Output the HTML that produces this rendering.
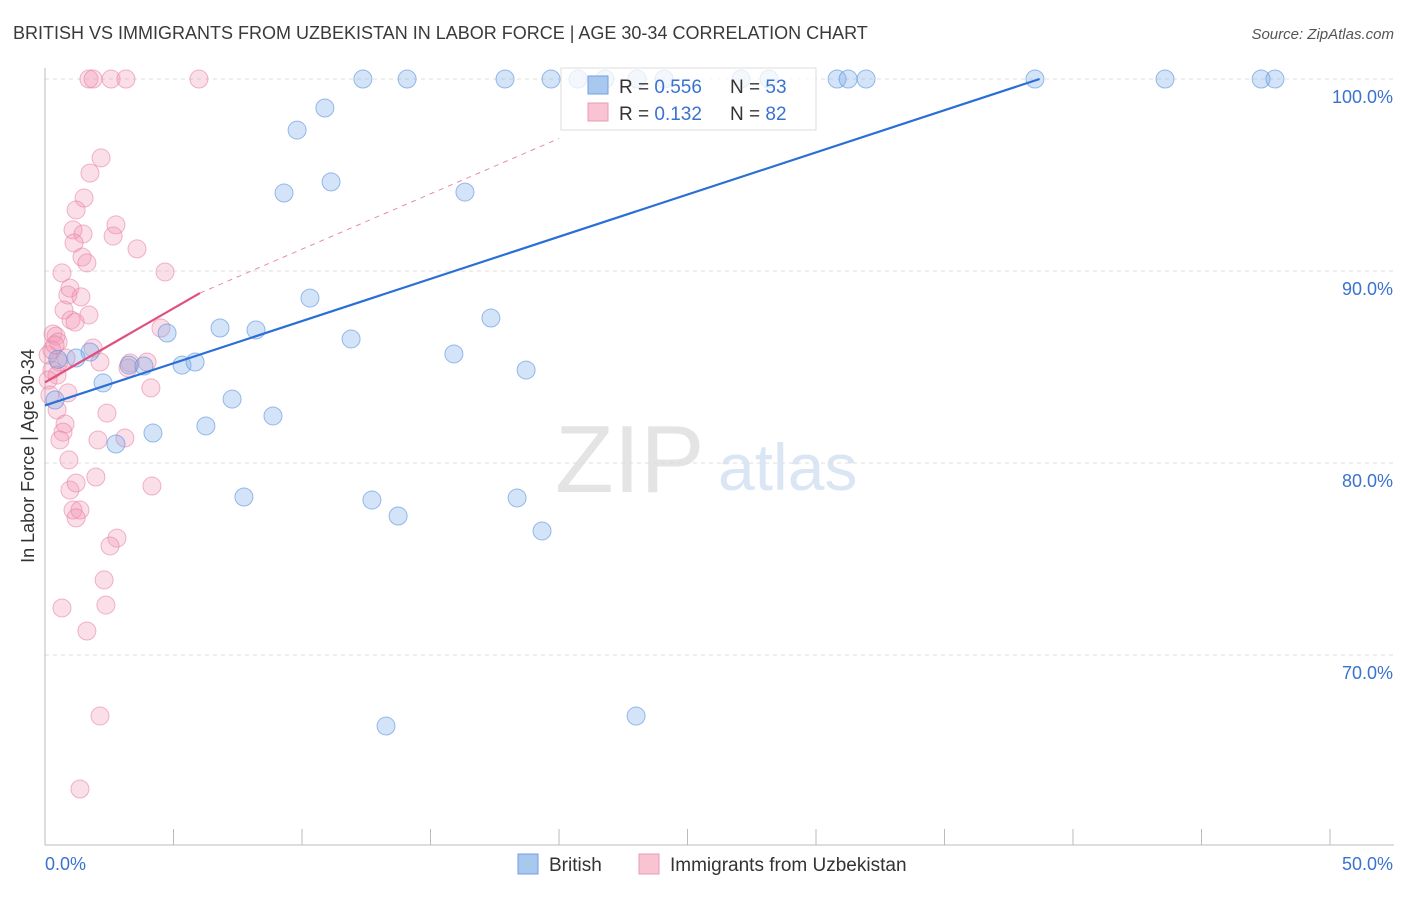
<!DOCTYPE html>
<html><head><meta charset="utf-8"><style>
body{margin:0;background:#fff;font-family:"Liberation Sans",sans-serif;}
svg text{font-family:"Liberation Sans",sans-serif;}
</style></head><body>
<svg id="chart" width="1406" height="892" xmlns="http://www.w3.org/2000/svg">
<text x="13" y="39" font-size="18" fill="#3a3a3a">BRITISH VS IMMIGRANTS FROM UZBEKISTAN IN LABOR FORCE | AGE 30-34 CORRELATION CHART</text>
<text x="1394" y="39" font-size="15" fill="#555" text-anchor="end" font-style="italic">Source: ZipAtlas.com</text>
<text x="555" y="492" font-size="96" fill="#e4e4e4" font-family="Liberation Serif">ZIP</text>
<text x="718" y="490" font-size="66" fill="#dbe6f5">atlas</text>
<text transform="translate(34,456) rotate(-90)" font-size="18" fill="#333" text-anchor="middle">In Labor Force | Age 30-34</text>
<g id="grid"></g><g id="axes"></g><g id="pts"></g><g id="lines"></g>
<g>
<rect x="561" y="68" width="255" height="62" fill="rgba(255,255,255,0.75)" stroke="#ddd"/>
<rect x="588" y="76" width="20" height="18" fill="#a9c8f0" stroke="#6fa0e0"/>
<rect x="588" y="103" width="20" height="18" fill="#f8c4d4" stroke="#ec98b4"/>
<text x="619" y="93" font-size="19" fill="#333">R = <tspan fill="#3a72d0">0.556</tspan></text>
<text x="730" y="93" font-size="19" fill="#333">N = <tspan fill="#3a72d0">53</tspan></text>
<text x="619" y="120" font-size="19" fill="#333">R =  <tspan fill="#3a72d0">0.132</tspan></text>
<text x="730" y="120" font-size="19" fill="#333">N = <tspan fill="#3a72d0">82</tspan></text>
</g>
<g>
<rect x="518" y="854" width="20" height="20" fill="#a9c8f0" stroke="#6fa0e0"/>
<text x="549" y="871" font-size="19" fill="#333">British</text>
<rect x="639" y="854" width="20" height="20" fill="#f8c4d4" stroke="#ec98b4"/>
<text x="670" y="871" font-size="19" fill="#333">Immigrants from Uzbekistan</text>
</g>
<text x="45" y="870" font-size="18" fill="#3a72d0">0.0%</text>
<text x="1393" y="870" font-size="18" fill="#3a72d0" text-anchor="end">50.0%</text>
</svg>
<script>
const yTicks=[100,90,80,70];
const xTicks=[0,5,10,15,20,25,30,35,40,45,50];
const britishX=[12.37,14.09,17.9,19.69,20.74,21.79,23.04,24.09,27.08,28.17,30.82,31.25,31.95,38.52,43.58,47.32,47.86,10.89,9.81,11.13,9.30,16.34,10.31,17.35,6.81,8.21,4.75,11.91,1.75,1.21,3.27,3.85,5.33,5.84,15.91,18.72,2.26,7.28,8.87,4.20,6.26,2.76,7.74,12.72,18.37,13.74,19.34,13.27,23.0,0.39,0.5];
const britishY=[100,100,100,100,100,100,100,100,100,100,100,100,100,100,100,100,100,98.49,97.34,94.64,94.06,94.11,88.59,87.55,87.03,86.93,86.77,86.46,85.78,85.47,85.10,85.05,85.10,85.26,85.68,84.84,84.17,83.33,82.45,81.56,81.93,80.99,78.23,78.07,78.18,77.24,76.46,66.30,66.82,83.28,85.4];
const uzX=[1.71,1.87,2.57,3.15,5.99,2.18,1.75,1.52,1.21,2.76,1.09,1.48,2.65,1.13,3.58,1.44,1.63,4.67,0.66,0.89,0.97,1.40,0.74,1.71,1.01,1.17,4.51,0.31,0.43,0.51,1.87,3.31,0.54,0.82,0.12,0.27,2.14,3.97,3.23,0.47,4.12,0.89,0.47,2.41,0.78,0.70,0.58,2.06,3.11,0.93,0.97,4.16,1.98,1.21,1.09,1.36,1.21,2.80,2.53,2.30,2.37,0.66,1.63,2.14,1.36,0.12,0.27,0.39,0.19];
const uzY=[100,100,100,100,100,95.89,95.10,93.80,93.18,92.40,92.14,91.93,91.82,91.46,91.15,90.73,90.42,89.95,89.90,88.75,89.11,88.65,87.97,87.71,87.45,87.34,87.03,86.72,86.61,86.30,85.99,85.21,85.26,85.47,85.63,84.84,85.26,85.26,84.95,84.58,83.91,83.65,82.76,82.60,82.03,81.61,81.20,81.20,81.30,80.16,78.59,78.80,79.27,78.96,77.55,77.55,77.14,76.09,75.68,73.91,72.60,72.45,71.25,66.82,63.02,84.32,85.89,86.15,83.54];
const blueTrend=[[0,83.0],[38.7,100]];
const pinkTrend=[[0,84.2],[6.03,88.85]];
const pinkDash=[[6.03,88.85],[20,96.9]];
const NS="http://www.w3.org/2000/svg";
const X=v=>45+v*25.7, Y=v=>79+(100-v)*19.2;
function mk(t,a,p){const e=document.createElementNS(NS,t);for(const k in a)e.setAttribute(k,a[k]);p.appendChild(e);return e;}
const grid=document.getElementById('grid'),axes=document.getElementById('axes'),pts=document.getElementById('pts'),lines=document.getElementById('lines');
yTicks.forEach(t=>{
 const l=mk('line',{x1:45,x2:1394,y1:Y(t),y2:Y(t),stroke:'#ddd','stroke-dasharray':'4,4'},grid);
 
 
 const tx=mk('text',{x:1393,y:Y(t)+24,'font-size':18,fill:'#3a72d0','text-anchor':'end'},grid);
 tx.textContent=t.toFixed(1)+'%';
 
 
});
const ya=mk('line',{x1:45,x2:45,y1:68,y2:845,stroke:'#bbb'},axes);


const xa=mk('line',{x1:45,x2:1394,y1:845,y2:845,stroke:'#bbb'},axes);


xTicks.forEach(t=>{
 const l=mk('line',{x1:X(t),x2:X(t),y1:829,y2:845,stroke:'#bbb'},axes);
 
 
});
uzX.forEach((v,i)=>{
 const c=mk('circle',{cx:X(v),cy:Y(uzY[i]),r:9,fill:'rgba(242,150,180,0.3)',stroke:'rgba(232,120,160,0.55)'},pts);
 
 
});
britishX.forEach((v,i)=>{
 const c=mk('circle',{cx:X(v),cy:Y(britishY[i]),r:9,fill:'rgba(130,175,235,0.35)',stroke:'rgba(90,145,220,0.6)'},pts);
 
 
});
const bt=mk('line',{x1:X(blueTrend[0][0]),y1:Y(blueTrend[0][1]),x2:X(blueTrend[1][0]),y2:Y(blueTrend[1][1]),stroke:'#2a6fd6','stroke-width':2.2},lines);


const pd=mk('line',{x1:X(pinkDash[0][0]),y1:Y(pinkDash[0][1]),x2:X(pinkDash[1][0]),y2:Y(pinkDash[1][1]),stroke:'#e88aa8','stroke-width':1,'stroke-dasharray':'5,5'},lines);


const pt=mk('line',{x1:X(pinkTrend[0][0]),y1:Y(pinkTrend[0][1]),x2:X(pinkTrend[1][0]),y2:Y(pinkTrend[1][1]),stroke:'#e0507e','stroke-width':2.2},lines);


</script>
</body></html>
